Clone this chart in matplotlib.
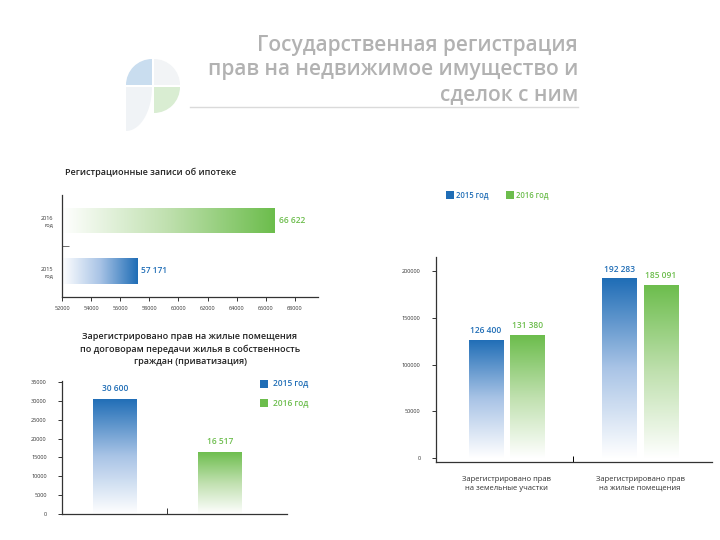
import matplotlib
matplotlib.use("Agg")
import matplotlib.pyplot as plt
import numpy as np
from matplotlib.patches import Wedge, Rectangle, Polygon
from matplotlib.colors import LinearSegmentedColormap

plt.rcParams['font.family'] = ['Open Sans', 'DejaVu Sans']

# --- data ---
header_lines = ['Государственная регистрация', 'прав на недвижимое имущество и', 'сделок с ним']

mort_title = 'Регистрационные записи об ипотеке'
mort_years = ['2015\nгод', '2016\nгод']
mort_values = [57171, 66622]
mort_labels = ['57 171', '66 622']
mort_ticks = [52000, 54000, 56000, 58000, 60000, 62000, 64000, 66000, 68000]

priv_title = 'Зарегистрировано прав на жилые помещения\nпо договорам передачи жилья в собственность\nграждан (приватизация)'
priv_values = [30600, 16517]
priv_labels = ['30 600', '16 517']
priv_ticks = [0, 5000, 10000, 15000, 20000, 25000, 30000, 35000]

rights_cats = ['Зарегистрировано прав\nна земельные участки', 'Зарегистрировано прав\nна жилые помещения']
rights_2015 = [126400, 192283]
rights_2016 = [131380, 185091]
rights_lab_2015 = ['126 400', '192 283']
rights_lab_2016 = ['131 380', '185 091']
rights_ticks = [0, 50000, 100000, 150000, 200000]

legend_names = ['2015 год', '2016 год']

BLUE = '#1f6db6'
GREEN = '#6cbd4c'
W, H = 720, 540

blue_cmap = LinearSegmentedColormap.from_list('b', ['#ffffff', '#a9c4e6', BLUE])
green_cmap = LinearSegmentedColormap.from_list('g', ['#ffffff', '#bfe0ae', GREEN])

fig = plt.figure(figsize=(7.2, 5.4), dpi=100)


def px_axes(x0, y0, x1, y1, **kw):
    return fig.add_axes([x0 / W, 1 - y1 / H, (x1 - x0) / W, (y1 - y0) / H], **kw)


def fill_gradient(ax, patch, cmap, horizontal):
    x, y = patch.get_x(), patch.get_y()
    w, h = patch.get_width(), patch.get_height()
    grad = np.linspace(0, 1, 256)
    if horizontal:
        img = grad.reshape(1, -1)
        origin = 'upper'
    else:
        img = grad.reshape(-1, 1)
        origin = 'lower'
    im = ax.imshow(img, cmap=cmap, extent=(x, x + w, y, y + h), origin=origin,
                   aspect='auto', zorder=2, interpolation='bilinear')
    im.set_clip_path(patch)
    patch.set_facecolor('none')
    patch.set_edgecolor('none')


def style_axes(ax):
    for s in ['top', 'right']:
        ax.spines[s].set_visible(False)
    for s in ['left', 'bottom']:
        ax.spines[s].set_color('#333333')
        ax.spines[s].set_linewidth(0.9)
    ax.tick_params(labelsize=4, colors='#333333', length=3, width=0.7)


# --- header ---
hdr = fig.add_axes([0, 0, 1, 1])
hdr.set_xlim(0, W)
hdr.set_ylim(H, 0)
hdr.axis('off')
for i, line in enumerate(header_lines):
    hdr.text(578, 45 + i * 25, line, ha='right', va='center', fontsize=15,
             color='#b2b2b2', fontweight='semibold')
hdr.plot([190, 578], [107, 107], color='#dadada', lw=1)

# logo: four light quarter shapes (y axis runs downward here)
cx, cy, r = 153, 86, 26
hdr.add_patch(Wedge((cx - 1, cy - 1), r, 180, 270, facecolor='#c9ddef', edgecolor='none'))
hdr.add_patch(Wedge((cx + 1, cy - 1), r, 270, 360, facecolor='#f2f4f6', edgecolor='none'))
hdr.add_patch(Wedge((cx + 1, cy + 1), r, 0, 90, facecolor='#d9edd2', edgecolor='none'))
t = np.linspace(0, np.pi / 2, 40)
tail = [(cx - 1 - r + r * np.cos(a), cy + 1 + 44 * np.sin(a)) for a in t]
tail = [(cx - 1 - r, cy + 1)] + tail
hdr.add_patch(Polygon(tail, facecolor='#f0f3f6', edgecolor='none'))

# --- mortgage chart ---
ax1 = px_axes(62, 195, 318, 297)
style_axes(ax1)
bars = ax1.barh([0, 1], [v - mort_ticks[0] for v in mort_values], left=mort_ticks[0], height=0.5)
for b, cm in zip(bars, [blue_cmap, green_cmap]):
    fill_gradient(ax1, b, cm, horizontal=True)
for i, (v, lab, c) in enumerate(zip(mort_values, mort_labels, [BLUE, GREEN])):
    ax1.text(v + 250, i, lab, ha='left', va='center', fontsize=6, color=c, fontweight='semibold')
ax1.set_xlim(52000, 69580)
ax1.set_ylim(-0.515, 1.505)
ax1.set_xticks(mort_ticks)
ax1.set_xticklabels([str(t) for t in mort_ticks])
ax1.set_yticks([0, 1])
ax1.set_yticklabels(mort_years, fontsize=4, linespacing=1.6)
ax1.tick_params(axis='y', length=0, pad=6)
ax1.set_yticks([0.5], minor=True)
ax1.tick_params(axis='y', which='minor', direction='in', length=5, width=0.6, color='#555555')
fig.text(65 / W, 1 - 172 / H, mort_title, fontsize=6.5, fontweight='semibold',
         ha='left', va='center', color='#222222')

# --- privatization chart ---
ax2 = px_axes(62, 381, 287, 514)
style_axes(ax2)
bars = ax2.bar([0, 1], priv_values, width=0.41)
for b, cm in zip(bars, [blue_cmap, green_cmap]):
    fill_gradient(ax2, b, cm, horizontal=False)
for i, (v, lab, c) in enumerate(zip(priv_values, priv_labels, [BLUE, GREEN])):
    ax2.text(i, v + 1500, lab, ha='center', va='bottom', fontsize=6, color=c, fontweight='semibold')
ax2.set_xlim(-0.5, 1.635)
ax2.set_ylim(0, 35300)
ax2.set_yticks(priv_ticks)
ax2.set_yticklabels([str(t) for t in priv_ticks])
ax2.set_xticks([0.5])
ax2.set_xticklabels([])
ax2.tick_params(axis='x', direction='in', length=4)
ax2.tick_params(axis='y', pad=8)
fig.text(190 / W, 1 - 349 / H, priv_title, fontsize=6.5, fontweight='semibold',
         ha='center', va='center', color='#222222', linespacing=1.45)
for j, (name, c) in enumerate(zip(legend_names, [BLUE, GREEN])):
    y = 384 + j * 19
    fig.patches.append(Rectangle((260 / W, 1 - (y + 4) / H), 8 / W, 8 / H,
                                 transform=fig.transFigure, facecolor=c, edgecolor='none'))
    fig.text(273 / W, 1 - y / H, name, fontsize=6, color=c, fontweight='semibold',
             ha='left', va='center')

# --- rights chart ---
ax3 = px_axes(436, 257, 712, 462)
style_axes(ax3)
xs = np.arange(len(rights_cats))
bars_a = ax3.bar(xs - 0.154, rights_2015, width=0.255)
bars_b = ax3.bar(xs + 0.154, rights_2016, width=0.255)
for b in bars_a:
    fill_gradient(ax3, b, blue_cmap, horizontal=False)
for b in bars_b:
    fill_gradient(ax3, b, green_cmap, horizontal=False)
for i in range(len(rights_cats)):
    ax3.text(xs[i] - 0.154, rights_2015[i] + 5000, rights_lab_2015[i], ha='center', va='bottom',
             fontsize=6, color=BLUE, fontweight='semibold')
    ax3.text(xs[i] + 0.154, rights_2016[i] + 5000, rights_lab_2016[i], ha='center', va='bottom',
             fontsize=6, color=GREEN, fontweight='semibold')
ax3.set_xlim(-0.528, 1.539)
ax3.set_ylim(-4300, 215000)
ax3.set_yticks(rights_ticks)
ax3.set_yticklabels([str(t) for t in rights_ticks])
ax3.tick_params(axis='y', pad=8)
ax3.set_xticks(xs)
ax3.set_xticklabels(rights_cats, fontsize=5.5, color='#333333', linespacing=1.4)
ax3.tick_params(axis='x', length=0, pad=10)
ax3.set_xticks([0.5], minor=True)
ax3.tick_params(axis='x', which='minor', direction='in', length=4, width=0.7)
for j, (name, c, x) in enumerate(zip(legend_names, [BLUE, GREEN], [446, 506])):
    fig.patches.append(Rectangle((x / W, 1 - 199 / H), 8 / W, 8 / H,
                                 transform=fig.transFigure, facecolor=c, edgecolor='none'))
    fig.text((x + 10) / W, 1 - 195 / H, name, fontsize=5.5, color=c, fontweight='semibold',
             ha='left', va='center')

fig.savefig('out.png', dpi=100)
